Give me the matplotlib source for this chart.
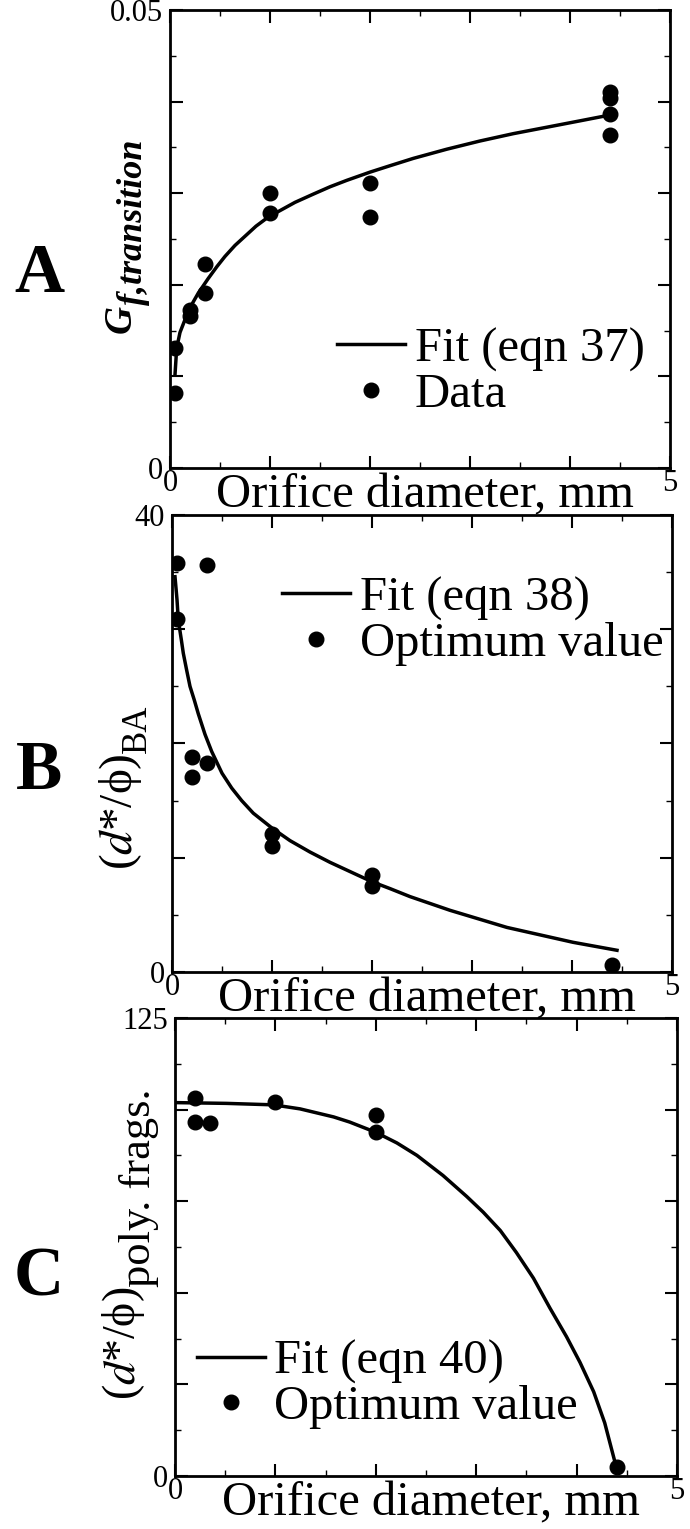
import numpy as np
import matplotlib
matplotlib.use("Agg")
import matplotlib.pyplot as plt
from matplotlib.ticker import MultipleLocator

plt.rcParams["font.family"] = ["Liberation Serif", "DejaVu Serif"]
plt.rcParams["mathtext.fontset"] = "stix"

# Panel A: transition gas fraction vs orifice diameter
A_X = [0.05, 0.05, 0.2, 0.2, 0.35, 0.35, 1, 1, 2, 2, 4.4, 4.4, 4.4, 4.4]
A_Y = [0.0082, 0.0131, 0.0172, 0.0166, 0.0223, 0.0191, 0.0300, 0.0278,
       0.0311, 0.0274, 0.0410, 0.0404, 0.0386, 0.0364]
FIT_A_X = [0.05, 0.067, 0.1, 0.15, 0.21, 0.283, 0.383, 0.47, 0.55, 0.65,
           0.75, 0.86, 0.983, 1.1, 1.25, 1.433, 1.6, 1.767, 2.0, 2.2, 2.433,
           2.767, 3.1, 3.433, 3.767, 4.1, 4.383]
FIT_A_Y = [0.0102, 0.0131, 0.0148, 0.0162, 0.0177, 0.0191, 0.0207, 0.0220,
           0.0231, 0.0243, 0.0253, 0.0264, 0.0274, 0.0281, 0.0290, 0.0299,
           0.0307, 0.0314, 0.0323, 0.0330, 0.0338, 0.0348, 0.0357, 0.0365,
           0.0372, 0.0379, 0.0385]

# Panel B: optimum (d*/phi) for bubbly annular
B_X = [0.05, 0.05, 0.35, 0.2, 0.2, 0.35, 1, 1, 2, 2, 4.4]
B_Y = [35.8, 30.9, 35.6, 18.8, 17.1, 18.3, 12.1, 11.0, 8.5, 7.5, 0.6]
FIT_B_X = [0.03, 0.05, 0.063, 0.093, 0.113, 0.147, 0.18, 0.223, 0.263, 0.33,
           0.397, 0.5, 0.597, 0.697, 0.813, 1.0, 1.18, 1.38, 1.58, 2.0, 2.18,
           2.38, 2.78, 3.35, 4.01, 4.45]
FIT_B_Y = [34.6, 32.6, 30.8, 29.1, 27.9, 26.4, 25.0, 23.8, 22.6, 20.8, 19.3,
           17.4, 16.1, 15.0, 13.9, 12.6, 11.5, 10.5, 9.6, 7.9, 7.3, 6.6, 5.4,
           3.9, 2.6, 1.9]

# Panel C: optimum (d*/phi) for polydisperse fragments
C_X = [0.2, 0.2, 0.35, 1, 2, 2, 4.4]
C_Y = [103.1, 96.7, 96.3, 102.2, 98.5, 94.0, 2.5]
FIT_C_X = [0.02, 0.51, 0.98, 1.245, 1.58, 1.74, 2.0, 2.21, 2.41, 2.67,
           2.905, 3.07, 3.24, 3.40, 3.57, 3.735, 3.90, 4.034, 4.17, 4.28, 4.38]
FIT_C_Y = [101.9, 101.7, 101.3, 100.2, 98.0, 96.6, 93.8, 90.9, 87.5, 82.0,
           76.3, 72.0, 67.0, 61.0, 54.0, 45.8, 38.0, 31.0, 23.0, 14.5, 4.0]

W, H = 690, 1529


def px_axes(fig, left, top, right, bottom):
    return fig.add_axes([left / W, 1 - bottom / H, (right - left) / W, (bottom - top) / H])


def style(ax, ymax, ymajor, ytop_label):
    ax.set_xlim(0, 5)
    ax.set_ylim(0, ymax)
    ax.set_xticks(range(6))
    ax.set_xticklabels(["0", "", "", "", "", "5"])
    ax.xaxis.set_minor_locator(MultipleLocator(0.5))
    yt = np.arange(0, ymax + ymajor / 2, ymajor)
    ax.set_yticks(yt)
    ax.set_yticklabels(["0"] + [""] * (len(yt) - 2) + [ytop_label])
    ax.yaxis.set_minor_locator(MultipleLocator(ymajor / 2))
    ax.tick_params(which="both", direction="in", top=True, right=True, labelsize=22)
    ax.tick_params(which="major", length=9, width=1.5)
    ax.tick_params(which="minor", length=4.5, width=1.0)
    ax.tick_params(axis="x", pad=1)
    ax.tick_params(axis="y", pad=5)
    for s in ax.spines.values():
        s.set_linewidth(2)
    ax.set_xlabel("Orifice diameter, mm", fontsize=35)
    ax.xaxis.set_label_coords(0.51, -0.012)


def ylabel(ax, main, sub, x, y, size, sub_size, drop, **kw):
    t = ax.text(x, y, main, transform=ax.transAxes, rotation=90,
                ha="right", va="bottom", fontsize=size, **kw)
    ax.annotate(sub, xy=(1, 1), xycoords=t, xytext=(drop, 0),
                textcoords="offset points", rotation=90,
                ha="right", va="bottom", fontsize=sub_size, **kw)


def panel(ax, fx, fy, dx, dy, fit_label, dot_label, anchor):
    ax.plot(fx, fy, color="black", lw=2.5, label=fit_label)
    ax.plot(dx, dy, "o", color="black", ms=10.5, label=dot_label)
    ax.legend(loc="center left", bbox_to_anchor=anchor, frameon=False,
              fontsize=35, handlelength=1.4, handletextpad=0.2,
              labelspacing=0.02, borderpad=0, borderaxespad=0)


fig = plt.figure(figsize=(W / 100, H / 100), dpi=100)

ax_a = px_axes(fig, 170, 10, 670, 468)
panel(ax_a, FIT_A_X, FIT_A_Y, A_X, A_Y, "Fit (eqn 37)", "Data", (0.334, 0.21))
style(ax_a, 0.05, 0.01, "0.05")
ylabel(ax_a, "G", "f,transition", -0.06, 0.295, 28, 26, 7,
       fontweight="bold", fontstyle="italic")

ax_b = px_axes(fig, 172, 515, 672, 972)
panel(ax_b, FIT_B_X, FIT_B_Y, B_X, B_Y, "Fit (eqn 38)", "Optimum value", (0.22, 0.768))
style(ax_b, 40, 10, "40")
ylabel(ax_b, "($d$*/ϕ)", "BA", -0.055, 0.223, 34, 25, 7)

ax_c = px_axes(fig, 175, 1018, 677, 1476)
panel(ax_c, FIT_C_X, FIT_C_Y, C_X, C_Y, "Fit (eqn 40)", "Optimum value", (0.043, 0.2))
style(ax_c, 125, 25, "125")
ylabel(ax_c, "($d$*/ϕ)", "poly. frags.", -0.055, 0.166, 33, 32, 8)

for letter, base in (("A", 292), ("B", 789), ("C", 1296)):
    fig.text(39 / W, 1 - base / H, letter, fontsize=50, fontweight="bold",
             ha="center", va="baseline")

fig.savefig("out.png", dpi=100, facecolor="white")
